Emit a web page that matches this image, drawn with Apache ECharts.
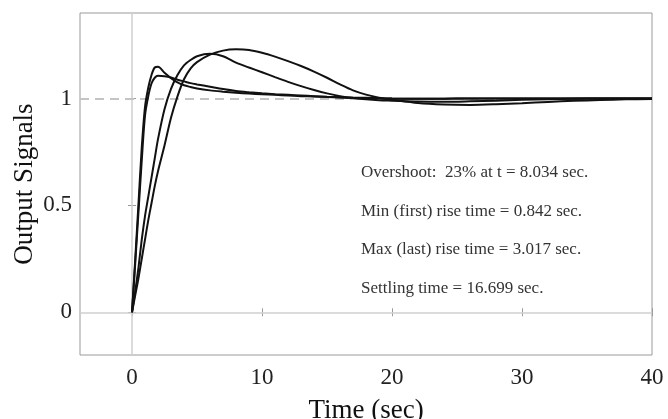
<!DOCTYPE html>
<html>
<head>
<meta charset="utf-8">
<script src="https://cdn.jsdelivr.net/npm/echarts@6/dist/echarts.min.js"></script>
<style>
  html, body { margin: 0; padding: 0; background: #fff; }
  #chart { width: 668px; height: 419px; }
</style>
</head>
<body>
<div id="chart"></div>
<script>
// time samples (sec), denser where the responses rise
var time = [0, 0.25, 0.5, 0.75, 1, 1.25, 1.5, 1.75, 2, 2.5, 3, 3.5, 4, 4.5, 5, 6, 7, 8, 9, 10, 11, 12, 13, 14, 15, 16, 17, 18, 19, 20, 22, 24, 26, 28, 30, 32, 34, 36, 38, 40];

// four step responses
var respA = [0, 0.25, 0.51, 0.77, 0.96, 1.05, 1.11, 1.145, 1.148, 1.12, 1.095, 1.075, 1.062, 1.054, 1.047, 1.038, 1.032, 1.027, 1.023, 1.02, 1.017, 1.014, 1.011, 1.009, 1.007, 1.005, 1.003, 1.002, 1.001, 1.0, 0.999, 0.999, 1.0, 1.0, 1.0, 1.0, 1.0, 1.0, 1.0, 1.0];
var respB = [0, 0.23, 0.47, 0.71, 0.92, 1.01, 1.07, 1.097, 1.106, 1.104, 1.098, 1.088, 1.08, 1.072, 1.066, 1.055, 1.044, 1.035, 1.029, 1.024, 1.02, 1.017, 1.014, 1.011, 1.008, 1.006, 1.004, 1.003, 1.001, 1.0, 0.999, 0.999, 1.0, 1.0, 1.0, 1.0, 1.0, 1.0, 1.0, 1.0];
var respC = [0, 0.1, 0.21, 0.34, 0.45, 0.54, 0.63, 0.72, 0.81, 0.95, 1.045, 1.11, 1.155, 1.18, 1.198, 1.209, 1.198, 1.168, 1.145, 1.123, 1.1, 1.078, 1.058, 1.04, 1.024, 1.011, 1.002, 0.996, 0.992, 0.99, 0.986, 0.985, 0.987, 0.99, 0.994, 0.997, 0.999, 1.0, 1.0, 1.0];
var respD = [0, 0.08, 0.16, 0.25, 0.34, 0.43, 0.51, 0.59, 0.66, 0.78, 0.91, 1.01, 1.09, 1.14, 1.17, 1.205, 1.224, 1.23, 1.227, 1.214, 1.196, 1.175, 1.152, 1.126, 1.097, 1.066, 1.038, 1.018, 1.004, 0.995, 0.979, 0.972, 0.97, 0.973, 0.978, 0.984, 0.989, 0.993, 0.996, 0.998];

var xTicks = [0, 10, 20, 30, 40];
var yTicks = [0, 0.5, 1];

var notes = [
  'Overshoot:  23% at t = 8.034 sec.',
  'Min (first) rise time = 0.842 sec.',
  'Max (last) rise time = 3.017 sec.',
  'Settling time = 16.699 sec.'
];

var serif = '"Liberation Serif", "Times New Roman", serif';
var chart = echarts.init(document.getElementById('chart'));

function pairs(vals) {
  return time.map(function (t, i) { return [t, vals[i]]; });
}

function curve(vals) {
  return {
    type: 'line',
    data: pairs(vals),
    smooth: 0.3,
    symbol: 'none',
    lineStyle: { color: '#111', width: 2 },
    z: 5
  };
}

var axisCommon = {
  type: 'value',
  axisLine: { show: false },
  splitLine: { show: false }
};
var tickStyle = { show: true, inside: true, length: 4, lineStyle: { color: '#9a9a9a' } };

var series = [respA, respB, respC, respD].map(curve);
// reference lines: t = 0, y = 0 and the dashed y = 1 target
series.push({
  type: 'line',
  data: [],
  markLine: {
    silent: true,
    symbol: 'none',
    label: { show: false },
    data: [
      { xAxis: 0, lineStyle: { color: '#cfcfcf', width: 1.5, type: 'solid' } },
      { yAxis: 0, lineStyle: { color: '#cfcfcf', width: 1.5, type: 'solid' } },
      { yAxis: 1, lineStyle: { color: '#c4c4c4', width: 2, type: [9, 6] } }
    ]
  },
  z: 2
});

chart.setOption({
  animation: false,
  backgroundColor: '#fff',
  grid: {
    left: 80, right: 16, top: 13, bottom: 64,
    outerBoundsMode: 'none',
    show: true, borderColor: '#9a9a9a', borderWidth: 1
  },
  xAxis: [
    Object.assign({}, axisCommon, {
      min: -4, max: 40,
      name: 'Time (sec)',
      nameLocation: 'middle',
      nameGap: 42,
      nameTextStyle: { fontFamily: serif, fontSize: 27, color: '#111' },
      axisTick: Object.assign({ customValues: xTicks }, tickStyle),
      axisLabel: { fontFamily: serif, fontSize: 23, color: '#222', margin: 11, customValues: xTicks }
    }),
    Object.assign({}, axisCommon, {
      min: -4, max: 40, position: 'top',
      axisTick: Object.assign({ customValues: xTicks }, tickStyle),
      axisLabel: { show: false }
    })
  ],
  yAxis: [
    Object.assign({}, axisCommon, {
      min: -0.2, max: 1.4,
      name: 'Output Signals',
      nameLocation: 'middle',
      nameGap: 42,
      nameMoveOverlap: false,
      nameTextStyle: { fontFamily: serif, fontSize: 27, color: '#111' },
      axisTick: Object.assign({ customValues: yTicks }, tickStyle),
      axisLabel: { fontFamily: serif, fontSize: 23, color: '#222', margin: 8, customValues: yTicks }
    }),
    Object.assign({}, axisCommon, {
      min: -0.2, max: 1.4, position: 'right',
      axisTick: Object.assign({ customValues: yTicks }, tickStyle),
      axisLabel: { show: false }
    })
  ],
  graphic: notes.map(function (s, i) {
    return {
      type: 'text',
      left: 361,
      top: 164.5 + i * 38.5,
      style: { text: s, fontFamily: serif, fontSize: 17, fill: '#333' }
    };
  }),
  series: series
});
</script>
</body>
</html>
